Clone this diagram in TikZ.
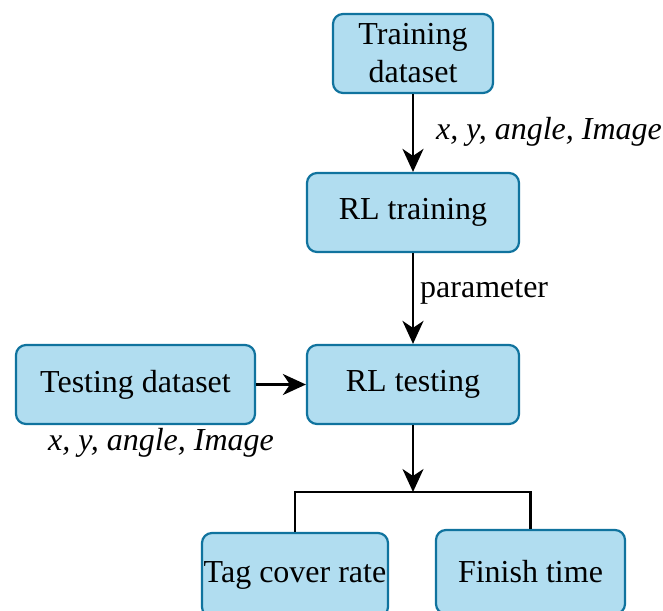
\documentclass[tikz,border=0pt]{standalone}
\usepackage{fontspec}
\setmainfont{Liberation Serif}
\usetikzlibrary{arrows.meta}
\definecolor{boxfill}{HTML}{B1DDF0}
\definecolor{boxline}{HTML}{10739E}
\tikzset{
  stepbox/.style={draw=boxline, fill=boxfill, line width=2.2pt, rounded corners=10pt,
    align=center, inner sep=0pt, font=\fontsize{32}{38}\selectfont},
  flow/.style={line width=2.6pt, -{Stealth[length=23pt,width=21pt,inset=7pt]}},
  wire/.style={line width=2.6pt},
  lbl/.style={font=\fontsize{32}{38}\selectfont, inner sep=0pt}
}
\begin{document}
\begin{tikzpicture}[x=1pt,y=-1pt]
  \clip (0,0) rectangle (663,610);
  % boxes
  \node[stepbox, minimum width=160pt, minimum height=79pt] (train) at (413,53.5) {Training\\dataset};
  \node[stepbox, minimum width=212pt, minimum height=79pt] (rltrain) at (413,212.5) {RL training};
  \node[stepbox, minimum width=212pt, minimum height=79pt] (rltest) at (413,384.5) {RL testing};
  \node[stepbox, minimum width=239pt, minimum height=79pt] (testset) at (135.5,384.5) {Testing dataset};
  \node[stepbox, minimum width=186pt, minimum height=84pt] (tag) at (295,575) {Tag cover rate};
  \node[stepbox, minimum width=189pt, minimum height=84pt] (finish) at (530.5,572) {Finish time};
  % connectors
  \coordinate (branch) at (413,492);
  \draw[flow] (train) -- (rltrain);
  \draw[flow] (rltrain) -- (rltest);
  \draw[flow] (testset) -- (rltest);
  \draw[flow] (rltest) -- (branch);
  \draw[wire] (tag.north) |- (branch) -| (finish.north);
  % labels
  \node[lbl, anchor=west] (lab1) at (436,132) {\itshape x, y, angle, Image};
  \node[lbl, anchor=west] (lab2) at (420,292) {parameter};
  \node[lbl, anchor=west] (lab3) at (48,443) {\itshape x, y, angle, Image};
\end{tikzpicture}
\end{document}
